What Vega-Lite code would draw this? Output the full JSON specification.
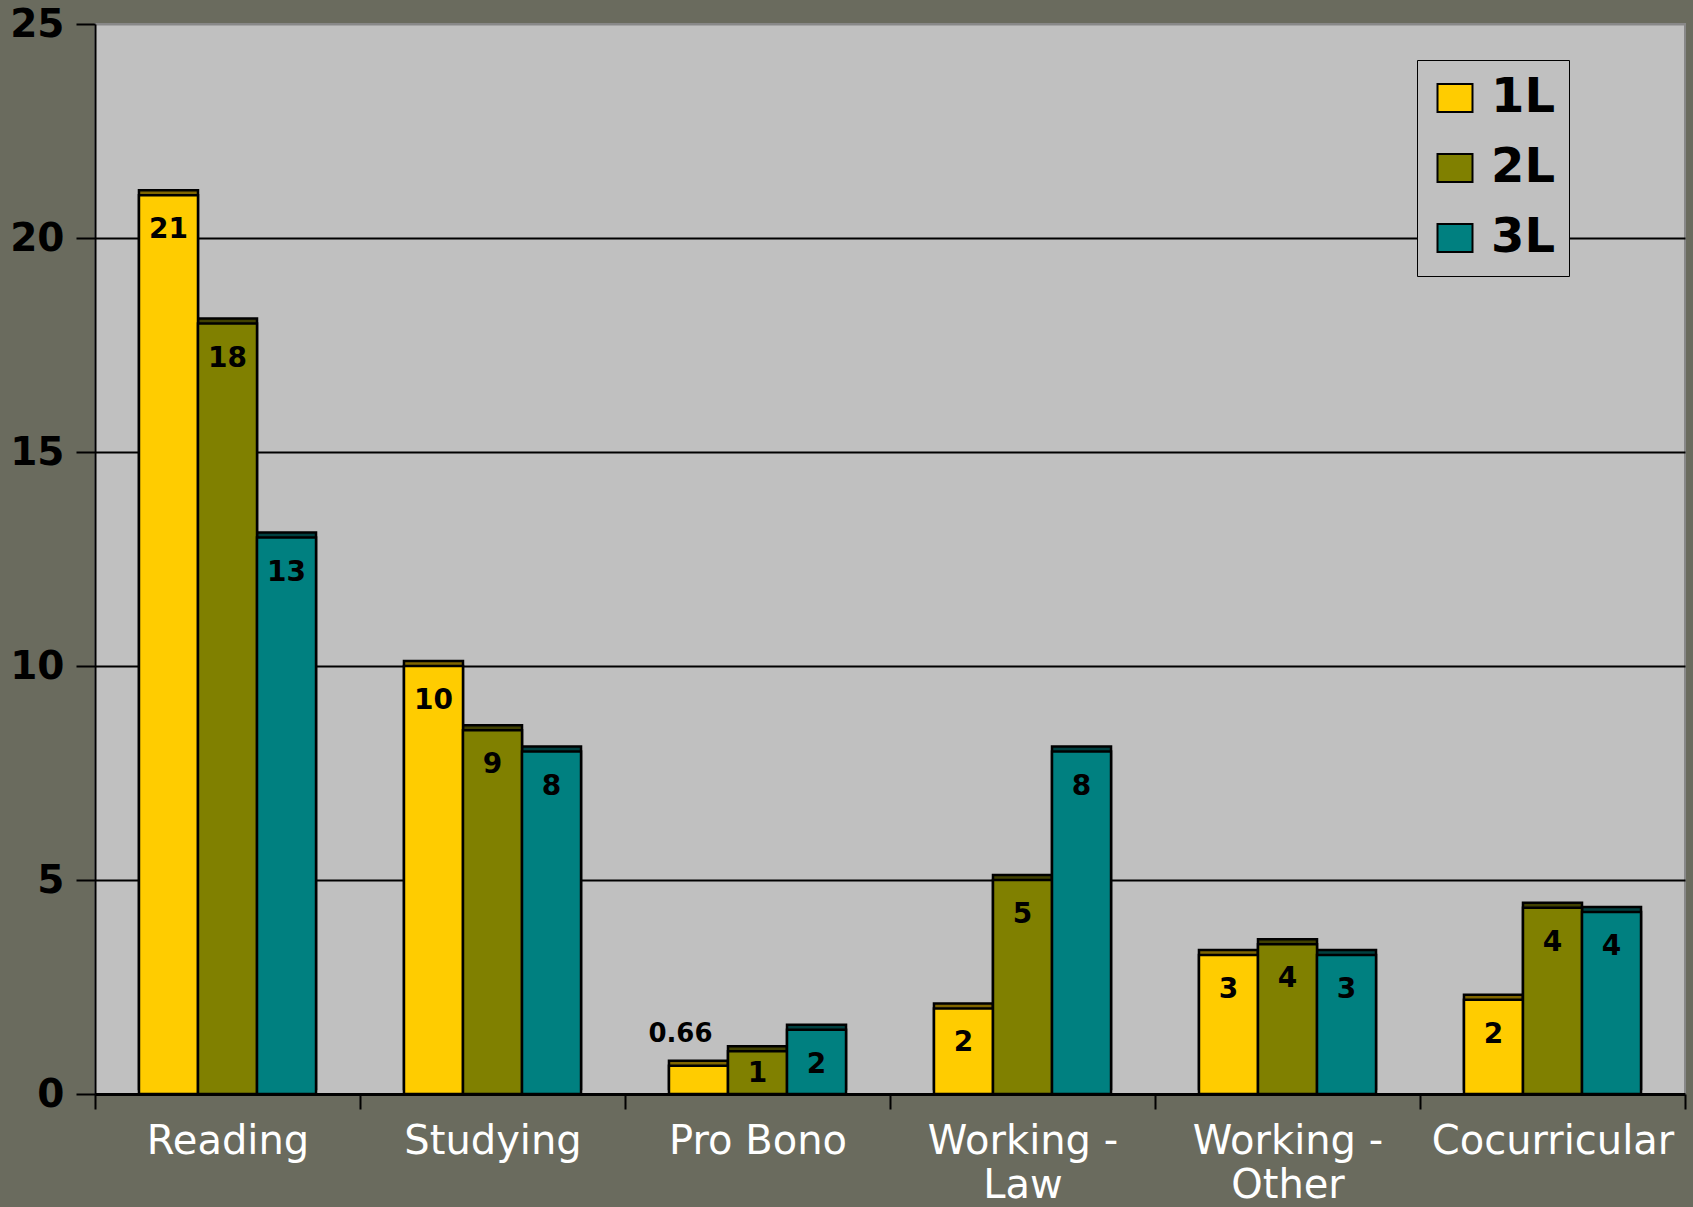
{
  "$schema": "https://vega.github.io/schema/vega-lite/v6.json",
  "width": 1590,
  "height": 1070,
  "autosize": {"type": "none"},
  "padding": {"left": 95, "top": 24, "right": 8, "bottom": 113},
  "background": "#6A6B5E",
  "config": {
    "view": {"fill": "#C0C0C0", "stroke": "#888888", "strokeWidth": 2}
  },
  "data": {
    "values": [
      {"activity": "Reading", "year": "1L", "hours": 21},
      {"activity": "Reading", "year": "2L", "hours": 18},
      {"activity": "Reading", "year": "3L", "hours": 13},
      {"activity": "Studying", "year": "1L", "hours": 10},
      {"activity": "Studying", "year": "2L", "hours": 8.5},
      {"activity": "Studying", "year": "3L", "hours": 8},
      {"activity": "Pro Bono", "year": "1L", "hours": 0.66},
      {"activity": "Pro Bono", "year": "2L", "hours": 1.0},
      {"activity": "Pro Bono", "year": "3L", "hours": 1.5},
      {"activity": "Working - Law", "year": "1L", "hours": 2},
      {"activity": "Working - Law", "year": "2L", "hours": 5},
      {"activity": "Working - Law", "year": "3L", "hours": 8},
      {"activity": "Working - Other", "year": "1L", "hours": 3.25},
      {"activity": "Working - Other", "year": "2L", "hours": 3.5},
      {"activity": "Working - Other", "year": "3L", "hours": 3.25},
      {"activity": "Cocurricular", "year": "1L", "hours": 2.2},
      {"activity": "Cocurricular", "year": "2L", "hours": 4.35},
      {"activity": "Cocurricular", "year": "3L", "hours": 4.25}
    ]
  },
  "encoding": {
    "x": {
      "field": "activity",
      "type": "nominal",
      "sort": null,
      "scale": {"paddingInner": 0, "paddingOuter": 0},
      "axis": {
        "title": null,
        "labelAngle": 0,
        "labelLimit": 0,
        "tickBand": "extent",
        "labelFont": "DejaVu Sans",
        "labelFontSize": 40,
        "labelColor": "white",
        "labelPadding": 12,
        "labelLineHeight": 44,
        "labelExpr": "datum.value == 'Working - Law' ? ['Working -', 'Law'] : datum.value == 'Working - Other' ? ['Working -', 'Other'] : datum.value",
        "domainColor": "black",
        "domainWidth": 3,
        "tickColor": "black",
        "tickWidth": 2,
        "tickSize": 15
      }
    },
    "xOffset": {"field": "year", "type": "nominal", "scale": {"paddingInner": 0, "paddingOuter": 0.745}},
    "y": {
      "field": "hours",
      "type": "quantitative",
      "scale": {"domain": [0, 25], "nice": false},
      "axis": {
        "title": null,
        "values": [0, 5, 10, 15, 20, 25],
        "labelFont": "DejaVu Sans",
        "labelFontWeight": "bold",
        "labelFontSize": 39,
        "labelColor": "black",
        "labelPadding": 12,
        "tickSize": 19,
        "tickWidth": 2,
        "tickColor": "black",
        "domainColor": "black",
        "domainWidth": 2,
        "grid": true,
        "gridColor": {"condition": {"test": "datum.value == 25 || datum.value == 0", "value": "#888888"}, "value": "black"},
        "gridWidth": 2
      }
    }
  },
  "layer": [
    {
      "mark": {"type": "bar", "stroke": "black", "strokeWidth": 2.5, "yOffset": -5},
      "encoding": {
        "color": {
          "field": "year",
          "type": "nominal",
          "scale": {"domain": ["1L", "2L", "3L"], "range": ["#806600", "#404000", "#004040"]},
          "legend": null
        }
      }
    },
    {
      "layer": [
        {
          "mark": {"type": "bar", "stroke": "black", "strokeWidth": 2.5},
          "encoding": {
            "color": {
              "field": "year",
              "type": "nominal",
              "scale": {"domain": ["1L", "2L", "3L"], "range": ["#FFCC00", "#808000", "#008080"]},
              "legend": {
                "title": null,
                "orient": "none",
                "legendX": 1322,
                "legendY": 36,
                "direction": "vertical",
                "fillColor": "#C0C0C0",
                "strokeColor": "black",
                "padding": 14,
                "rowPadding": 22,
                "symbolType": "M-1,-0.8H1V0.8H-1Z",
                "symbolSize": 1225,
                "symbolStrokeColor": "black",
                "symbolStrokeWidth": 2,
                "symbolOpacity": 1,
                "labelFont": "DejaVu Sans",
                "labelFontWeight": "bold",
                "labelFontSize": 48,
                "labelColor": "black",
                "labelOffset": 12
              }
            }
          }
        },
        {
          "transform": [{"filter": "datum.hours >= 1.4"}],
          "mark": {"type": "text", "baseline": "middle", "dy": 35, "font": "DejaVu Sans", "fontWeight": "bold", "fontSize": 28, "color": "black"},
          "encoding": {"text": {"field": "hours", "type": "quantitative", "format": ".0f"}}
        },
        {
          "transform": [{"filter": "datum.hours >= 1 && datum.hours < 1.4"}],
          "mark": {"type": "text", "baseline": "middle", "dy": 23, "font": "DejaVu Sans", "fontWeight": "bold", "fontSize": 28, "color": "black"},
          "encoding": {"text": {"field": "hours", "type": "quantitative", "format": ".0f"}}
        },
        {
          "transform": [{"filter": "datum.hours < 1"}],
          "mark": {"type": "text", "baseline": "middle", "dy": -32, "dx": -18, "font": "DejaVu Sans", "fontWeight": "bold", "fontSize": 26, "color": "black"},
          "encoding": {"text": {"field": "hours", "type": "quantitative", "format": ".2f"}}
        }
      ]
    }
  ],
  "resolve": {"scale": {"color": "independent"}, "legend": {"color": "independent"}}
}
